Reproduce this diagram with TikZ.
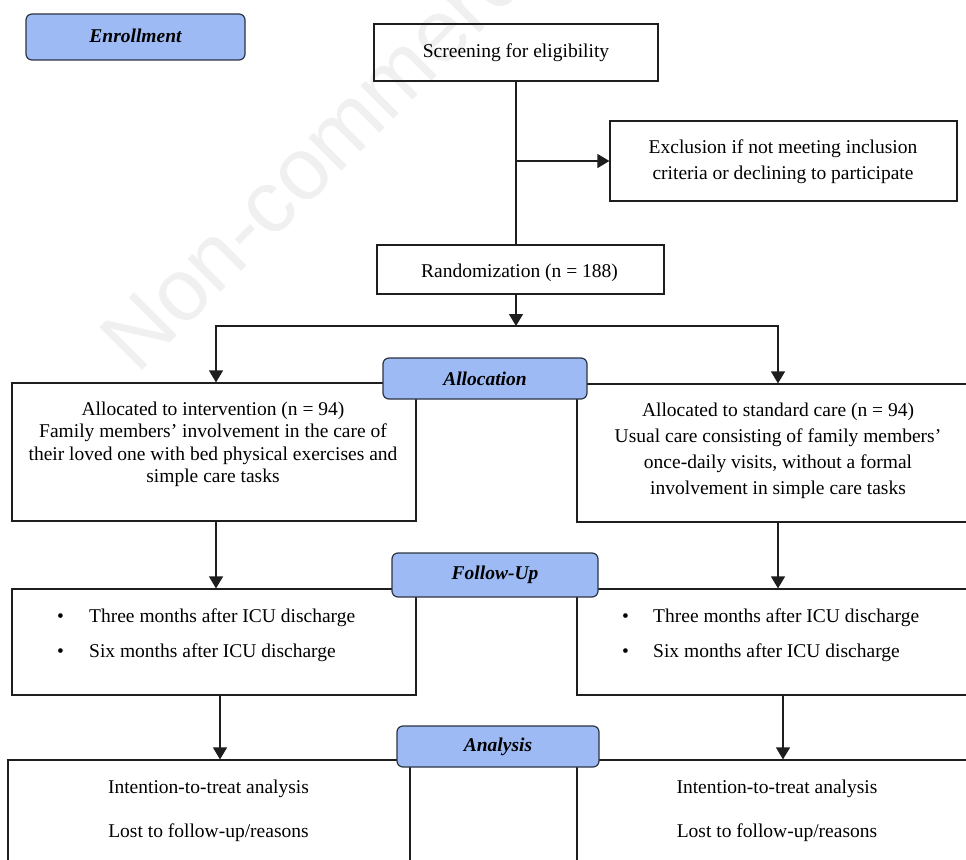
\documentclass[tikz,border=0pt]{standalone}
\usepackage{fontspec}
\setmainfont{Liberation Serif}
\newfontfamily\wmfont{Liberation Sans}
\usetikzlibrary{arrows.meta}
\definecolor{phaseblue}{RGB}{157,186,244}
\definecolor{phaseedge}{RGB}{45,52,66}
\definecolor{linec}{RGB}{30,30,30}
\definecolor{wmgray}{RGB}{240,240,240}
\begin{document}
\begin{tikzpicture}[x=1pt,y=-1pt,
  box/.style={draw=linec, line width=1.2pt, rectangle, inner sep=0pt},
  phase/.style={draw=phaseedge, fill=phaseblue, rounded corners=6pt, line width=1.2pt, inner sep=0pt, font=\fontsize{19.5}{22}\selectfont\bfseries\itshape},
  arr/.style={-{Triangle[width=14pt,length=12pt]}, line width=1.2pt, draw=linec},
  conn/.style={line width=1.2pt, draw=linec},
  txt/.style={anchor=base, inner sep=0pt},
  every node/.style={font=\fontsize{19.5}{22}\selectfont}
]
\path[use as bounding box] (0,0) rectangle (966,859);
\clip (0,0) rectangle (966,859);
\fill[white] (0,0) rectangle (966,859);

% watermark
\node[rotate=45, anchor=base west, inner sep=0pt, text=wmgray, font=\wmfont\fontsize{88}{88}\selectfont] (wm) at (137,376) {Non-commercial use only};

% boxes
\node[box, minimum width=284pt, minimum height=57pt] (screen) at (516,52.5) {};
\node[box, minimum width=347pt, minimum height=80pt] (excl) at (783.5,161) {};
\node[box, minimum width=287pt, minimum height=49pt] (rand) at (520.5,269.5) {};
\node[box, minimum width=404pt, minimum height=138pt] (allocL) at (214,452) {};
\node[box, minimum width=402pt, minimum height=138pt] (allocR) at (778,453) {};
\node[box, minimum width=404pt, minimum height=106pt] (followL) at (214,642) {};
\node[box, minimum width=402pt, minimum height=106pt] (followR) at (778,642) {};
\node[box, minimum width=402pt, minimum height=160pt] (anaL) at (209,840) {};
\node[box, minimum width=402pt, minimum height=160pt] (anaR) at (778,840) {};

% texts
\node[txt] (screenT) at (516,58) {Screening for eligibility};
\node[txt] (exclT1) at (783,153) {Exclusion if not meeting inclusion};
\node[txt] (exclT2) at (783,179) {criteria or declining to participate};
\node[txt] (randT) at (519.5,277) {Randomization (n = 188)};

\node[txt] (aL1) at (213,415) {Allocated to intervention (n = 94)};
\node[txt] (aL2) at (213,437.5) {Family members' involvement in the care of};
\node[txt] (aL3) at (213,460) {their loved one with bed physical exercises and};
\node[txt] (aL4) at (213,482.5) {simple care tasks};

\node[txt] (aR1) at (778,416) {Allocated to standard care (n = 94)};
\node[txt] (aR2) at (778,442) {Usual care consisting of family members'};
\node[txt] (aR3) at (778,468) {once-daily visits, without a formal};
\node[txt] (aR4) at (778,494.5) {involvement in simple care tasks};

\node[txt, anchor=base west] (fL1) at (57,622) {\makebox[32pt][l]{\textbullet}Three months after ICU discharge};
\node[txt, anchor=base west] (fL2) at (57,657) {\makebox[32pt][l]{\textbullet}Six months after ICU discharge};
\node[txt, anchor=base west] (fR1) at (622,622) {\makebox[31pt][l]{\textbullet}Three months after ICU discharge};
\node[txt, anchor=base west] (fR2) at (622,657) {\makebox[31pt][l]{\textbullet}Six months after ICU discharge};

\node[txt] (nL1) at (208.5,793) {Intention-to-treat analysis};
\node[txt] (nL2) at (208.5,837) {Lost to follow-up/reasons};
\node[txt] (nR1) at (777,793) {Intention-to-treat analysis};
\node[txt] (nR2) at (777,837) {Lost to follow-up/reasons};

% connectors
\coordinate (split) at (516,326);
\coordinate (xL1) at (216,0);
\coordinate (xR1) at (778,0);
\coordinate (xL2) at (220,0);
\coordinate (xR2) at (783,0);
\draw[conn] (screen.south) -- (screen.south |- rand.north);
\draw[arr] (screen.south |- excl.west) -- (excl.west);
\draw[arr] (rand.south -| split) -- (split);
\draw[arr] (split) -| (allocL.north -| xL1);
\draw[arr] (split) -| (allocR.north -| xR1);
\draw[arr] (allocL.south -| xL1) -- (followL.north -| xL1);
\draw[arr] (allocR.south -| xR1) -- (followR.north -| xR1);
\draw[arr] (followL.south -| xL2) -- (anaL.north -| xL2);
\draw[arr] (followR.south -| xR2) -- (anaR.north -| xR2);

% phase labels
\node[phase, minimum width=219pt, minimum height=46pt] (enroll) at (135.5,37) {\raisebox{3pt}{Enrollment}};
\node[phase, minimum width=204pt, minimum height=41pt] (alloc) at (485,378.5) {Allocation};
\node[phase, minimum width=206pt, minimum height=44pt] (follow) at (495,575) {Follow-Up};
\node[phase, minimum width=202pt, minimum height=41pt] (analysis) at (498,746.5) {Analysis};
\end{tikzpicture}
\end{document}
